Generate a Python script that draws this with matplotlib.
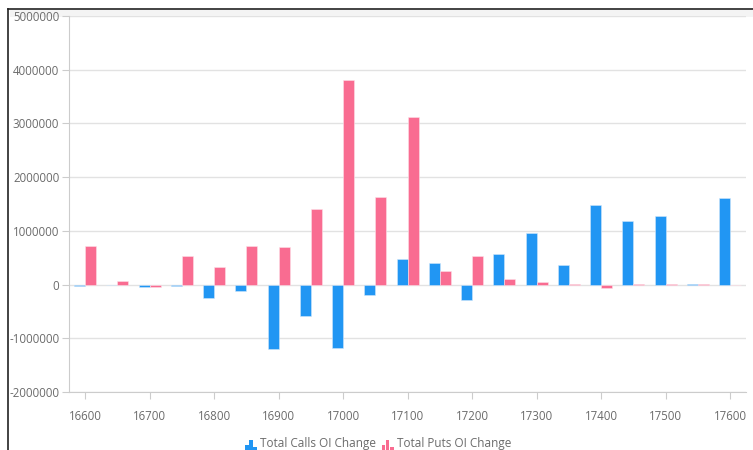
import numpy as np
import matplotlib
matplotlib.use("Agg")
import matplotlib.pyplot as plt
from matplotlib.lines import Line2D
from matplotlib.patches import Rectangle
from matplotlib.legend_handler import HandlerBase
from matplotlib.ticker import FuncFormatter

plt.rcParams['font.family'] = ['Open Sans', 'DejaVu Sans']

# strike prices and OI changes
strikes = [16600, 16650, 16700, 16750, 16800, 16850, 16900, 16950, 17000, 17050, 17100,
           17150, 17200, 17250, 17300, 17350, 17400, 17450, 17500, 17550, 17600]
calls_oi = [-20000, -8000, -50000, -30000, -260000, -118000, -1200000, -590000, -1180000, -186000, 484000,
            404000, -286000, 559000, 950000, 354000, 1484000, 1174000, 1273000, 5000, 1609000]
puts_oi = [720000, 62000, -55000, 534000, 329000, 720000, 690000, 1400000, 3810000, 1627000, 3112000,
           255000, 522000, 105000, 50000, 12000, -56000, 5000, 12000, 5000, -10000]
tick_labels = [str(s) for s in strikes[::2]]

blue = '#2196F3'
pink = '#F96C91'
grey_txt = '#6b6b6b'
grid_col = '#e2e2e2'


class BarIcon(HandlerBase):
    # little bar-chart glyph like the original legend
    def create_artists(self, legend, orig, xd, yd, width, height, fontsize, trans):
        c = orig.get_facecolor()
        w = width / 3.3
        hs = [0.9, 1.6, 0.7]
        arts = []
        for i, h in enumerate(hs):
            r = Rectangle((xd + i * w * 1.15, yd - 4), w, height * h, facecolor=c,
                          edgecolor='none', transform=trans)
            arts.append(r)
        return arts


fig = plt.figure(figsize=(7.53, 4.5), dpi=100)
ax = fig.add_axes([0.0916, 0.129, 0.8994, 0.8356])

x = np.arange(len(strikes))
bw = 0.34
ax.bar(x - bw / 2, calls_oi, bw, color=blue, edgecolor='#cfe6fb', linewidth=0.4, zorder=3)
ax.bar(x + bw / 2, puts_oi, bw, color=pink, edgecolor='#fde0e8', linewidth=0.4, zorder=3)

ax.set_ylim(-2000000, 5000000)
ax.set_yticks(np.arange(-2000000, 5000001, 1000000))
ax.yaxis.set_major_formatter(FuncFormatter(lambda v, p: f'{int(round(v))}'))
ax.set_xlim(-0.5, len(strikes) - 0.5)
ax.set_xticks(x[::2])
ax.set_xticklabels(tick_labels)

ax.grid(axis='y', color=grid_col, linewidth=1, zorder=0)
for s in ['top', 'right']:
    ax.spines[s].set_visible(False)
for s in ['left', 'bottom']:
    ax.spines[s].set_color('#cccccc')
ax.tick_params(axis='both', colors='#cccccc', labelcolor=grey_txt, labelsize=8.3, length=5)
ax.tick_params(axis='x', pad=8)
ax.tick_params(axis='y', pad=2)

h1 = Rectangle((0, 0), 1, 1, facecolor=blue)
h2 = Rectangle((0, 0), 1, 1, facecolor=pink)
leg = fig.legend([h1, h2], ['Total Calls OI Change', 'Total Puts OI Change'],
                 handler_map={Rectangle: BarIcon()}, loc='center', bbox_to_anchor=(0.502, 0.014),
                 ncol=2, frameon=False, fontsize=8.5, handlelength=1.0, handletextpad=0.25,
                 columnspacing=0.5, labelcolor=grey_txt)

# screenshot frame
fig.add_artist(Line2D([0.011, 1.0], [0.98, 0.98], color='#222222', linewidth=1.2))
fig.add_artist(Line2D([0.011, 0.011], [0.0, 0.98], color='#222222', linewidth=1.2))
fig.add_artist(Rectangle((0.013, 0.962), 0.987, 0.016, facecolor='#f4f4f4', edgecolor='none', zorder=-1))

fig.savefig('out.png', dpi=100)
